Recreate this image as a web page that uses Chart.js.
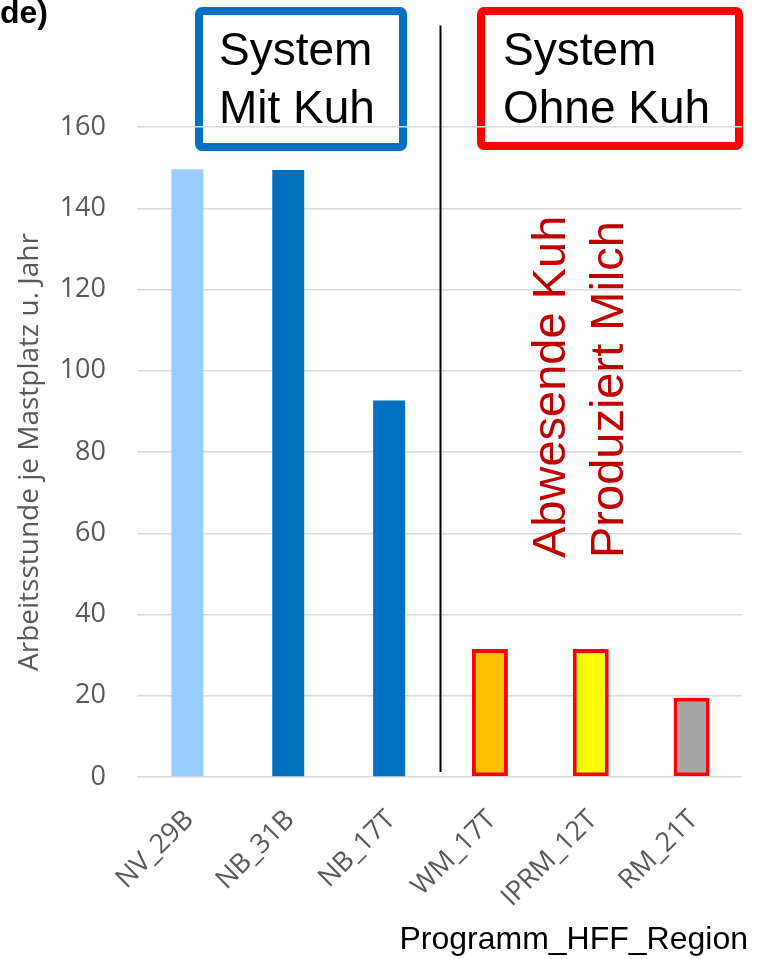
<!DOCTYPE html>
<html>
<head>
<meta charset="utf-8">
<script src="https://cdn.jsdelivr.net/npm/chart.js@4"></script>
<style>
  body { margin: 0; background: #fff; }
</style>
</head>
<body>
<canvas id="chart" width="765" height="959"></canvas>
<script>
// categories and values (Arbeitsstunden je Mastplatz u. Jahr)
const programs = ['NV_29B', 'NB_31B', 'NB_17T', 'WM_17T', 'IPRM_12T', 'RM_21T'];
const mitKuh = [149.6, 149.4, 92.7, null, null, null];
const ohneKuh = [null, null, null, 31.5, 31.5, 19.5];

const mitKuhColors = ['#99CCFF', '#0070C0', '#0070C0', null, null, null];
const ohneKuhColors = [null, null, null, '#FFC000', '#FFFF00', '#A5A5A5'];

const tickFont = { family: '"Open Sans", sans-serif', size: 27 };
const grey = '#595959';

const annotations = {
  id: 'annotations',
  beforeDraw(chart) {
    const c = chart.ctx;
    c.save();
    // cropped title
    c.fillStyle = '#000';
    c.font = 'bold 32px "Liberation Sans", Arial, sans-serif';
    c.textBaseline = 'alphabetic';
    c.textAlign = 'left';
    c.fillText('de)', 0, 23);

    // boxes
    c.lineWidth = 8;
    c.lineJoin = 'round';
    c.strokeStyle = '#0070C0';
    c.beginPath();
    c.roundRect(199, 11, 204, 136, 3);
    c.stroke();
    c.strokeStyle = '#FF0000';
    c.beginPath();
    c.roundRect(481, 11, 258, 135, 3);
    c.stroke();

    c.font = '46px "Liberation Sans", Arial, sans-serif';
    c.fillStyle = '#000';
    c.fillText('System', 219, 65);
    c.fillText('Mit Kuh', 219, 123);
    c.fillText('System', 503, 65);
    c.fillText('Ohne Kuh', 503, 123);
    c.restore();
  },
  afterDatasetsDraw(chart) {
    const c = chart.ctx;
    const x = chart.scales.x;
    const y = chart.scales.y;
    c.save();
    // divider between the two systems
    const xd = Math.round(x.getPixelForValue(2.5)) + 0.5;
    c.strokeStyle = '#000';
    c.lineWidth = 2;
    c.beginPath();
    c.moveTo(xd, y.getPixelForValue(185));
    c.lineTo(xd, chart.chartArea.bottom - 5);
    c.stroke();

    // x axis title
    c.fillStyle = '#000';
    c.font = '32px "Liberation Sans", Arial, sans-serif';
    c.textAlign = 'right';
    c.textBaseline = 'alphabetic';
    c.fillText('Programm_HFF_Region', 748, 949);

    // rotated note
    c.fillStyle = '#C00000';
    c.font = '47px "Liberation Sans", Arial, sans-serif';
    c.textAlign = 'left';
    c.translate(565, 558);
    c.rotate(-Math.PI / 2);
    c.fillText('Abwesende Kuh', 0, 0);
    c.fillText('Produziert Milch', 0, 58);
    c.restore();
  }
};

new Chart(document.getElementById('chart').getContext('2d'), {
  type: 'bar',
  data: {
    labels: programs,
    datasets: [{
      label: 'System Mit Kuh',
      data: mitKuh,
      backgroundColor: mitKuhColors,
      borderWidth: 0,
      grouped: false,
      barPercentage: 0.317,
      categoryPercentage: 1
    }, {
      label: 'System Ohne Kuh',
      data: ohneKuh,
      backgroundColor: ohneKuhColors,
      borderColor: '#FF0000',
      borderWidth: 4,
      borderSkipped: false,
      grouped: false,
      barPercentage: 0.357,
      categoryPercentage: 1
    }]
  },
  options: {
    responsive: false,
    animation: false,
    layout: { padding: { top: 127, right: 23, left: 0, bottom: 0 } },
    plugins: {
      legend: { display: false },
      tooltip: { enabled: false }
    },
    scales: {
      x: {
        grid: { display: false },
        border: { display: false },
        ticks: {
          color: grey,
          font: tickFont,
          minRotation: 45,
          maxRotation: 45,
          autoSkip: false,
          padding: 19,
          labelOffset: 2
        },
        afterFit(scale) { scale.height = 182; }
      },
      y: {
        min: 0,
        max: 160,
        grid: { color: '#D9D9D9', lineWidth: 1.5, drawTicks: false },
        border: { display: false },
        ticks: { stepSize: 20, color: grey, font: tickFont, padding: 31 },
        title: {
          display: true,
          text: 'Arbeitsstunde je Mastplatz u. Jahr',
          color: grey,
          font: { family: '"Open Sans", sans-serif', size: 28 },
          padding: { top: 13, bottom: 0 }
        },
        afterFit(scale) { scale.width = 137; }
      }
    }
  },
  plugins: [annotations]
});
</script>
</body>
</html>
